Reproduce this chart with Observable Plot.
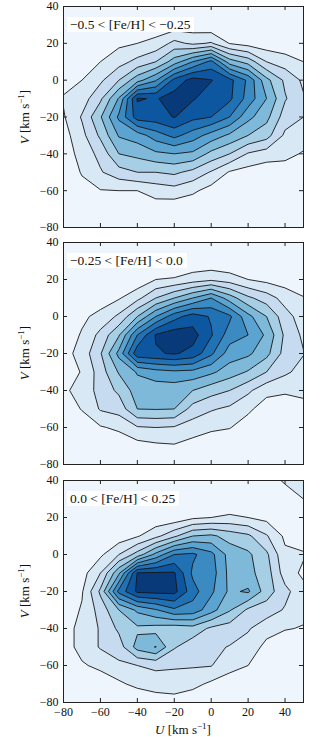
<!DOCTYPE html>
<html><head><meta charset="utf-8">
<script src="https://cdn.jsdelivr.net/npm/d3@7"></script>
<script src="https://cdn.jsdelivr.net/npm/@observablehq/plot@0.6"></script>
<style>
body{margin:0;background:#fff;}
#chart{position:relative;width:334px;height:737px;font-family:"Liberation Serif","DejaVu Serif",serif;color:#111;}
.panel{position:absolute;left:0;}
.lab{position:absolute;left:67px;background:#fff;font-size:13.5px;line-height:15px;padding:0 4px 0 3px;white-space:nowrap;}
.axlab{position:absolute;font-size:13px;white-space:nowrap;transform:translate(-50%,-50%);}
.rot{transform:translate(-50%,-50%) rotate(-90deg);}
sup{font-size:9px;vertical-align:0;position:relative;top:-5px;}
</style></head><body><div id="chart"></div>
<script>
// sample positions of the density grid (km/s)
const uSamples = [-80,-70,-60,-50,-40,-30,-20,-10,0,10,20,30,40,50];
const vSamples = [40,30,20,10,0,-10,-20,-30,-40,-50,-60,-70,-80];
const uTicks = [-80,-60,-40,-20,0,20,40];
const vTicks = [-80,-60,-40,-20,0,20,40];
const levels = [1,2,3,4,5,6,7,8,9];
const panelLabels = ["−0.5 < [Fe/H] < −0.25", "−0.25 < [Fe/H] < 0.0", "0.0 < [Fe/H] < 0.25"];

// contour level (rows: V = 40 … −80, columns: U = −80 … 50)
const density1 = [
  [0,0,0,0,0,0,0,0,0,0,0,0,0,0],
  [0,0,0.1,0.3,0.3,0.4,0.4,0.4,0.2,0,0,0,0,0],
  [0,0.1,0.5,0.8,1.0,1.3,2.3,1.8,2.1,0.95,0.6,0.4,0.3,0.4],
  [0.2,0.5,1.0,1.6,2.3,3.0,4.5,6.0,7.3,4.5,3.6,2.0,1.5,1.0],
  [0.6,1.0,1.8,3.0,4.6,5.9,8.3,9.4,9.05,8.3,6.8,4.3,2.8,1.8],
  [1.1,1.5,2.8,5.1,9.1,8.9,9.5,9.1,8.5,8.2,6.6,5.0,3.1,2.1],
  [0.9,2.1,3.9,6.2,8.5,8.6,9.05,8.3,8.0,7.0,5.3,4.3,2.5,2.0],
  [0.6,1.7,3.2,5.1,5.5,6.5,7.3,6.5,5.6,4.8,4.0,3.4,1.8,1.5],
  [0.4,1.4,2.3,4.0,4.3,4.8,5.0,4.8,3.7,3.0,1.9,1.5,1.3,0.9],
  [0.1,1.1,1.9,2.6,3.0,3.0,3.2,2.7,1.9,0.9,0.6,0.4,0.5,0.4],
  [0,0.6,0.95,1.0,1.0,1.4,1.6,1.2,0.6,0.2,0,0,0,0],
  [0,0.2,0.4,0.4,0.3,0.5,0.3,0.2,0,0,0,0,0,0],
  [0,0,0,0,0,0,0,0,0,0,0,0,0,0]
];
const density2 = [
  [0,0,0,0,0,0,0,0,0,0,0,0,0,0],
  [0,0,0,0,0,0,0.1,0.2,0.2,0.1,0.1,0,0,0],
  [0,0.1,0.3,0.5,0.3,1.0,1.1,1.5,1.8,1.5,1.0,0.7,0.5,0.4],
  [0,0.4,0.5,0.9,1.7,3.0,4.0,5.0,6.0,4.5,3.2,2.5,1.6,1.05],
  [0.2,0.8,1.3,2.2,4.0,6.0,7.6,8.5,7.9,7.2,5.3,4.0,2.4,1.5],
  [0.4,1.1,2.3,3.9,7.0,9.1,9.6,9.4,8.1,6.5,6.0,4.8,2.8,1.8],
  [0.6,1.4,2.9,5.3,8.7,8.9,9.1,8.7,7.2,5.5,5.2,4.3,2.6,2.05],
  [0.6,1.05,2.5,4.1,5.1,5.6,5.8,5.7,5.2,4.5,3.9,3.0,2.2,1.6],
  [0.85,1.3,2.4,3.2,4.5,4.4,4.4,4.0,3.4,3.0,2.2,1.3,1.1,1.15],
  [0.5,1.05,2.1,2.4,4.0,4.05,4.0,2.6,2.1,1.8,1.2,0.5,0.6,0.8],
  [0.1,0.5,0.9,1.2,1.9,2.0,1.9,1.5,1.2,1.05,0.5,0.2,0.1,0.2],
  [0,0.1,0.3,0.3,0.6,0.8,0.9,0.6,0.3,0.2,0,0,0,0],
  [0,0,0,0,0,0,0,0,0,0,0,0,0,0]
];
const density3 = [
  [0,0,0,0,0,0,0,0,0,0,0,0.3,1.2,1.6],
  [0,0,0,0,0,0,0,0,0,0,0,0,0.2,1.0],
  [0,0,0,0,0.1,0.3,0.3,0.8,1.0,1.2,1.0,0.7,0.3,0.2],
  [0,0.1,0.2,0.4,0.9,1.7,2.8,4.0,4.2,3.6,3.2,2.1,0.8,0.5],
  [0,0.3,0.8,2.0,3.4,5.3,7.0,7.2,6.3,4.6,4.2,3.2,1.2,1.1],
  [0,0.6,2.0,4.8,9.05,9.1,9.1,6.8,6.5,4.7,4.3,3.5,1.5,0.8],
  [0.2,0.9,3.2,7.3,9.2,9.3,9.3,7.4,6.2,4.8,5.15,3.5,2.3,1.3],
  [0.4,1.1,2.4,4.0,5.2,5.9,6.8,6.6,5.4,4.1,2.8,2.5,1.9,1.2],
  [0.6,1.3,2.1,3.2,3.8,3.6,3.4,3.6,2.8,2.5,2.1,1.4,1.05,0.95],
  [0.6,1.3,2.1,2.5,4.4,5.05,3.1,2.4,2.2,1.95,1.6,0.7,0.5,0.4],
  [0.3,0.9,1.2,1.8,2.0,2.2,2.1,2.1,2.05,1.2,1.0,0.4,0.1,0],
  [0,0.3,0.5,0.8,1.3,1.5,1.6,1.3,0.8,0.7,0.3,0,0,0],
  [0,0,0,0,0,0.4,0.5,0.3,0,0,0,0,0,0]
];

const background = "#eef5fc";
const fills = ["#d9e8f5","#c6dbef","#a6cee4","#7fb9da","#5ba3d0","#3b8bc2","#2171b5","#0d57a1","#083a7a"];

const fmt = d => d < 0 ? "\u2212" + Math.abs(d) : String(d);
const step = 10;

function panel(grid, {height, mt, mb, bottom}) {
  const frameH = height - mt - mb, frameW = 334 - 63 - 31;
  const marks = [
    Plot.frame({fill: background}),
    Plot.contour(grid.flat(), {
      width: uSamples.length, height: vSamples.length,
      x1: uSamples[0] - step / 2, x2: uSamples[uSamples.length - 1] + step / 2,
      y1: vSamples[0] + step / 2, y2: vSamples[vSamples.length - 1] - step / 2,
      fill: Plot.identity, thresholds: levels,
      stroke: "#151515", strokeWidth: 0.9, clip: true
    }),
    Plot.tickX(uTicks, {x: d => d, insetTop: frameH - 4, stroke: "#222"}),
    Plot.tickX(uTicks, {x: d => d, insetBottom: frameH - 4, stroke: "#222"}),
    Plot.tickY(vTicks, {y: d => d, insetRight: frameW - 4, stroke: "#222"}),
    Plot.tickY(vTicks, {y: d => d, insetLeft: frameW - 4, stroke: "#222"}),
    Plot.frame({stroke: "#222", strokeWidth: 1}),
    Plot.axisY(vTicks, {tickSize: 0, tickPadding: 5, tickFormat: fmt, label: null})
  ];
  if (bottom) marks.push(Plot.axisX(uTicks, {tickSize: 0, tickPadding: 5, tickFormat: fmt, label: null}));
  return Plot.plot({
    width: 334, height,
    marginLeft: 63, marginRight: 31, marginTop: mt, marginBottom: mb,
    x: {domain: [-80, 50], axis: bottom ? undefined : null},
    y: {domain: [-80, 40]},
    color: {type: "ordinal", domain: levels, range: fills},
    style: {fontFamily: "'Liberation Serif', 'DejaVu Serif', serif", fontSize: "12px", color: "#111", background: "transparent", overflow: "visible"},
    marks
  });
}

const chart = document.getElementById("chart");
const specs = [
  {grid: density1, top: 0, height: 236, mt: 6, mb: 9},
  {grid: density2, top: 236, height: 236, mt: 6, mb: 8},
  {grid: density3, top: 472, height: 265, mt: 8, mb: 35, bottom: true}
];
specs.forEach((s, i) => {
  const svg = panel(s.grid, s);
  svg.classList.add("panel");
  svg.style.top = s.top + "px";
  chart.appendChild(svg);
  const frameTop = s.top + s.mt;
  const frameBottom = s.top + s.height - s.mb;
  const lab = document.createElement("div");
  lab.className = "lab";
  lab.style.top = (frameTop + 10.5) + "px";
  lab.textContent = panelLabels[i];
  chart.appendChild(lab);
  const yl = document.createElement("div");
  yl.className = "axlab rot";
  yl.style.left = "25px";
  yl.style.top = ((frameTop + frameBottom) / 2) + "px";
  yl.innerHTML = "<i>V</i> [km s<sup>\u22121</sup>]";
  chart.appendChild(yl);
});
const xl = document.createElement("div");
xl.className = "axlab";
xl.style.left = "183px";
xl.style.top = "730px";
xl.innerHTML = "<i>U</i> [km s<sup>\u22121</sup>]";
chart.appendChild(xl);
</script>
</body></html>
